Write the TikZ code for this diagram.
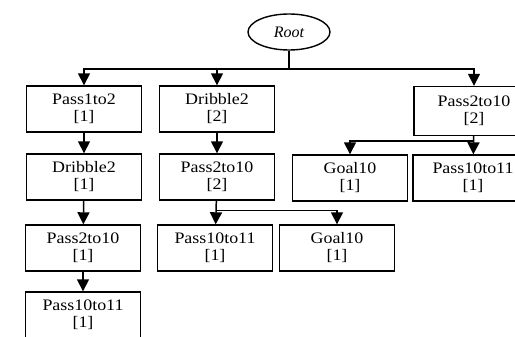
\documentclass[tikz,border=0pt]{standalone}
\usepackage{fontspec}
\setmainfont{Liberation Serif}
\newfontfamily\boxfont{Liberation Serif}[FakeStretch=1.12]
\usetikzlibrary{arrows.meta,positioning,shapes.geometric}

\begin{document}
\begin{tikzpicture}[x=1pt, y=-1pt,
    box/.style={draw, line width=1.4pt, align=center, inner sep=2pt, font=\boxfont\fontsize{16}{17}\selectfont, minimum width=115pt, minimum height=46pt},
    rootnode/.style={draw, ellipse, line width=1.4pt, font=\fontsize{16}{18}\selectfont\itshape, minimum width=82pt, minimum height=36pt},
    arrow/.style={-{Triangle[length=12pt, width=12pt]}, line width=1.5pt},
    link/.style={line width=1.5pt}
  ]
    \useasboundingbox (0,0) rectangle (515,337);
    \node[rootnode] (root) at (289,32) {Root};
    % first level
    \node[box] (pass1to2) at (84,109) {Pass1to2\\{[1]}};
    \node[box] (dribbleB) at (217,109) {Dribble2\\{[2]}};
    \node[box, minimum width=120pt, minimum height=49pt] (passC) at (474,111) {Pass2to10\\{[2]}};
    % second level
    \node[box] (dribbleA) at (84,177) {Dribble2\\{[1]}};
    \node[box] (passB) at (217,177) {Pass2to10\\{[2]}};
    \node[box] (goalC) at (350,178) {Goal10\\{[1]}};
    \node[box, minimum width=120pt] (pass10C) at (473,178) {Pass10to11\\{[1]}};
    % third level
    \node[box] (passA) at (83,248) {Pass2to10\\{[1]}};
    \node[box] (pass10B) at (215,248) {Pass10to11\\{[1]}};
    \node[box] (goalB) at (337,248) {Goal10\\{[1]}};
    % fourth level
    \node[box] (pass10A) at (83,315) {Pass10to11\\{[1]}};
    % forks
    \coordinate (rootfork) at (root.south |- 0,69);
    \coordinate[below=5pt of passC.south] (forkC);
    \coordinate[below=10pt of passB.south] (forkB);
    \draw[link] (root) -- (rootfork);
    \draw[arrow] (rootfork) -| (pass1to2);
    \draw[arrow] (rootfork) -| (dribbleB);
    \draw[arrow] (rootfork) -| (passC);
    \draw[arrow] (pass1to2) -- (dribbleA);
    \draw[arrow] (dribbleA) -- (passA);
    \draw[arrow] (passA) -- (pass10A);
    \draw[arrow] (dribbleB) -- (passB);
    \draw[arrow] (passB) -- (pass10B);
    \draw[arrow] (forkB) -| (goalB);
    \draw[arrow] (passC) -- (pass10C);
    \draw[arrow] (forkC) -| (goalC);
\end{tikzpicture}
\end{document}
